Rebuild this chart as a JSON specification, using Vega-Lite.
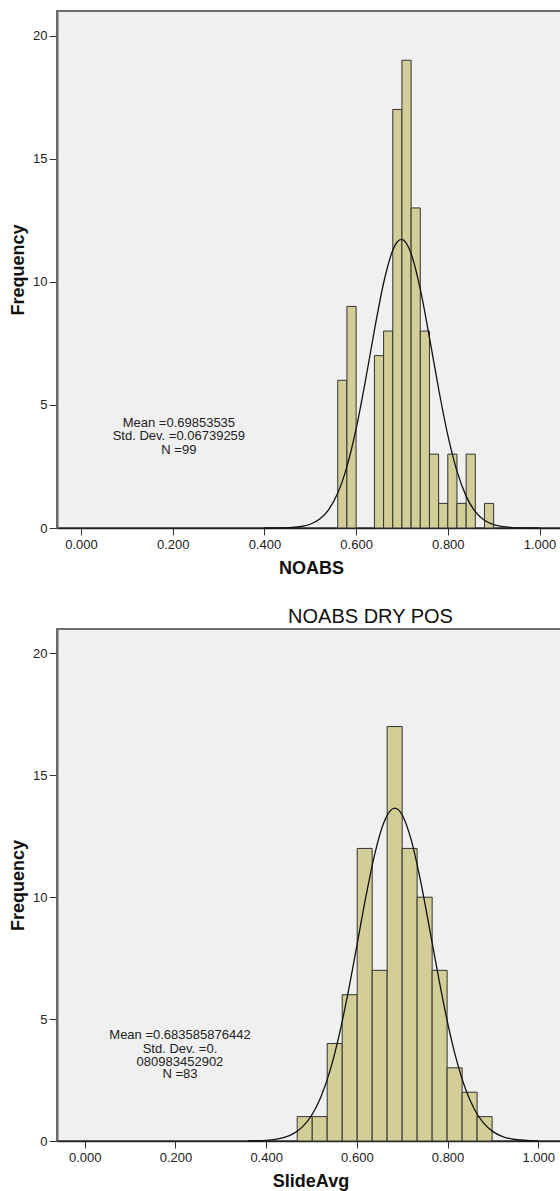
{
  "$schema": "https://vega.github.io/schema/vega-lite/v6.json",
  "background": "white",
  "padding": {"left": 8, "top": 10, "right": 0, "bottom": 0},
  "spacing": 28,
  "align": "none",
  "config": {
    "view": {"fill": "#f0f0f0", "stroke": "#6e6e6e", "strokeWidth": 2},
    "font": "Liberation Sans",
    "axis": {
      "grid": false,
      "labelFont": "Liberation Sans",
      "labelColor": "#222222",
      "labelFontSize": 13,
      "tickColor": "#333333",
      "titleFont": "Liberation Sans",
      "titleFontWeight": "bold",
      "titleFontSize": 18,
      "titleColor": "#111111"
    }
  },
  "datasets": {
    "noabs": [
      {"bin_start": 0.56, "bin_end": 0.58, "count": 6},
      {"bin_start": 0.58, "bin_end": 0.60, "count": 9},
      {"bin_start": 0.64, "bin_end": 0.66, "count": 7},
      {"bin_start": 0.66, "bin_end": 0.68, "count": 8},
      {"bin_start": 0.68, "bin_end": 0.70, "count": 17},
      {"bin_start": 0.70, "bin_end": 0.72, "count": 19},
      {"bin_start": 0.72, "bin_end": 0.74, "count": 13},
      {"bin_start": 0.74, "bin_end": 0.76, "count": 8},
      {"bin_start": 0.76, "bin_end": 0.78, "count": 3},
      {"bin_start": 0.78, "bin_end": 0.80, "count": 1},
      {"bin_start": 0.80, "bin_end": 0.82, "count": 3},
      {"bin_start": 0.82, "bin_end": 0.84, "count": 1},
      {"bin_start": 0.84, "bin_end": 0.86, "count": 3},
      {"bin_start": 0.88, "bin_end": 0.90, "count": 1}
    ],
    "noabs_curve": [
      {"x": 0.40, "y": 0.0006},
      {"x": 0.42, "y": 0.0023},
      {"x": 0.44, "y": 0.0075},
      {"x": 0.46, "y": 0.022},
      {"x": 0.48, "y": 0.061},
      {"x": 0.50, "y": 0.153},
      {"x": 0.52, "y": 0.351},
      {"x": 0.54, "y": 0.737},
      {"x": 0.56, "y": 1.417},
      {"x": 0.58, "y": 2.495},
      {"x": 0.60, "y": 4.025},
      {"x": 0.62, "y": 5.944},
      {"x": 0.64, "y": 8.038},
      {"x": 0.66, "y": 9.952},
      {"x": 0.68, "y": 11.286},
      {"x": 0.69, "y": 11.627},
      {"x": 0.6985, "y": 11.721},
      {"x": 0.71, "y": 11.553},
      {"x": 0.72, "y": 11.142},
      {"x": 0.74, "y": 9.700},
      {"x": 0.76, "y": 7.733},
      {"x": 0.78, "y": 5.646},
      {"x": 0.80, "y": 3.774},
      {"x": 0.82, "y": 2.310},
      {"x": 0.84, "y": 1.295},
      {"x": 0.86, "y": 0.664},
      {"x": 0.88, "y": 0.312},
      {"x": 0.90, "y": 0.134},
      {"x": 0.92, "y": 0.053},
      {"x": 0.94, "y": 0.019},
      {"x": 0.96, "y": 0.0063},
      {"x": 0.98, "y": 0.0019},
      {"x": 1.00, "y": 0.0005}
    ],
    "noabs_stats": [
      {"x": 0.2135, "y": 4.27, "label": "Mean =0.69853535"},
      {"x": 0.2135, "y": 3.72, "label": "Std. Dev. =0.06739259"},
      {"x": 0.2135, "y": 3.17, "label": "N =99"}
    ],
    "slide": [
      {"bin_start": 0.4685, "bin_end": 0.5016, "count": 1},
      {"bin_start": 0.5016, "bin_end": 0.5346, "count": 1},
      {"bin_start": 0.5346, "bin_end": 0.5677, "count": 4},
      {"bin_start": 0.5677, "bin_end": 0.6007, "count": 6},
      {"bin_start": 0.6007, "bin_end": 0.6338, "count": 12},
      {"bin_start": 0.6338, "bin_end": 0.6668, "count": 7},
      {"bin_start": 0.6668, "bin_end": 0.6999, "count": 17},
      {"bin_start": 0.6999, "bin_end": 0.7329, "count": 12},
      {"bin_start": 0.7329, "bin_end": 0.7660, "count": 10},
      {"bin_start": 0.7660, "bin_end": 0.7990, "count": 7},
      {"bin_start": 0.7990, "bin_end": 0.8321, "count": 3},
      {"bin_start": 0.8321, "bin_end": 0.8651, "count": 2},
      {"bin_start": 0.8651, "bin_end": 0.8982, "count": 1}
    ],
    "slide_curve": [
      {"x": 0.36, "y": 0.0047},
      {"x": 0.38, "y": 0.0121},
      {"x": 0.40, "y": 0.0296},
      {"x": 0.42, "y": 0.0683},
      {"x": 0.44, "y": 0.148},
      {"x": 0.46, "y": 0.302},
      {"x": 0.48, "y": 0.579},
      {"x": 0.50, "y": 1.045},
      {"x": 0.52, "y": 1.775},
      {"x": 0.54, "y": 2.835},
      {"x": 0.56, "y": 4.260},
      {"x": 0.58, "y": 6.022},
      {"x": 0.60, "y": 8.013},
      {"x": 0.62, "y": 10.029},
      {"x": 0.64, "y": 11.809},
      {"x": 0.66, "y": 13.083},
      {"x": 0.6836, "y": 13.650},
      {"x": 0.70, "y": 13.373},
      {"x": 0.72, "y": 12.338},
      {"x": 0.74, "y": 10.710},
      {"x": 0.76, "y": 8.746},
      {"x": 0.78, "y": 6.720},
      {"x": 0.80, "y": 4.858},
      {"x": 0.82, "y": 3.304},
      {"x": 0.84, "y": 2.113},
      {"x": 0.86, "y": 1.273},
      {"x": 0.88, "y": 0.721},
      {"x": 0.90, "y": 0.384},
      {"x": 0.92, "y": 0.193},
      {"x": 0.94, "y": 0.0908},
      {"x": 0.96, "y": 0.0403},
      {"x": 0.98, "y": 0.0168},
      {"x": 1.00, "y": 0.0066}
    ],
    "slide_stats": [
      {"x": 0.21, "y": 4.34, "label": "Mean =0.683585876442"},
      {"x": 0.21, "y": 3.79, "label": "Std. Dev. =0."},
      {"x": 0.21, "y": 3.26, "label": "080983452902"},
      {"x": 0.21, "y": 2.73, "label": "N =83"}
    ]
  },
  "vconcat": [
    {
      "width": 508,
      "height": 517,
      "layer": [
        {
          "data": {"name": "noabs"},
          "mark": {"type": "bar", "fill": "#d3ce97", "stroke": "#333333", "strokeWidth": 1},
          "encoding": {
            "x": {
              "field": "bin_start", "type": "quantitative",
              "scale": {"domain": [-0.0523, 1.0556], "nice": false, "zero": false},
              "axis": {"values": [0, 0.2, 0.4, 0.6, 0.8, 1.0], "format": ".3f", "tickSize": 7, "labelPadding": 3, "titlePadding": 8, "domainColor": "#222222", "domainWidth": 1.5},
              "title": "NOABS"
            },
            "x2": {"field": "bin_end"},
            "y": {
              "field": "count", "type": "quantitative", "stack": null,
              "scale": {"domain": [0, 21], "nice": false},
              "axis": {"values": [0, 5, 10, 15, 20], "tickSize": 8, "labelPadding": 2, "titlePadding": 5, "domainColor": "#666666", "domainWidth": 2},
              "title": "Frequency"
            },
            "y2": {"datum": 0}
          }
        },
        {
          "data": {"name": "noabs_curve"},
          "mark": {"type": "line", "color": "#111111", "strokeWidth": 1.3, "interpolate": "monotone"},
          "encoding": {
            "x": {"field": "x", "type": "quantitative"},
            "y": {"field": "y", "type": "quantitative"}
          }
        },
        {
          "data": {"name": "noabs_stats"},
          "mark": {"type": "text", "fontSize": 13, "color": "#222222", "font": "Liberation Sans"},
          "encoding": {
            "x": {"field": "x", "type": "quantitative"},
            "y": {"field": "y", "type": "quantitative"},
            "text": {"field": "label"}
          }
        }
      ]
    },
    {
      "width": 507,
      "height": 512,
      "title": {"text": "NOABS DRY POS", "fontSize": 20, "fontWeight": "normal", "color": "#111111", "font": "Liberation Sans", "offset": 2, "dx": 60},
      "layer": [
        {
          "data": {"name": "slide"},
          "mark": {"type": "bar", "fill": "#d3ce97", "stroke": "#333333", "strokeWidth": 1},
          "encoding": {
            "x": {
              "field": "bin_start", "type": "quantitative",
              "scale": {"domain": [-0.0611, 1.0567], "nice": false, "zero": false},
              "axis": {"values": [0, 0.2, 0.4, 0.6, 0.8, 1.0], "format": ".3f", "tickSize": 7, "labelPadding": 3, "titlePadding": 8, "domainColor": "#222222", "domainWidth": 1.5},
              "title": "SlideAvg"
            },
            "x2": {"field": "bin_end"},
            "y": {
              "field": "count", "type": "quantitative", "stack": null,
              "scale": {"domain": [0, 21], "nice": false},
              "axis": {"values": [0, 5, 10, 15, 20], "tickSize": 8, "labelPadding": 2, "titlePadding": 5, "domainColor": "#666666", "domainWidth": 2},
              "title": "Frequency"
            },
            "y2": {"datum": 0}
          }
        },
        {
          "data": {"name": "slide_curve"},
          "mark": {"type": "line", "color": "#111111", "strokeWidth": 1.3, "interpolate": "monotone"},
          "encoding": {
            "x": {"field": "x", "type": "quantitative"},
            "y": {"field": "y", "type": "quantitative"}
          }
        },
        {
          "data": {"name": "slide_stats"},
          "mark": {"type": "text", "fontSize": 13, "color": "#222222", "font": "Liberation Sans"},
          "encoding": {
            "x": {"field": "x", "type": "quantitative"},
            "y": {"field": "y", "type": "quantitative"},
            "text": {"field": "label"}
          }
        }
      ]
    }
  ]
}
